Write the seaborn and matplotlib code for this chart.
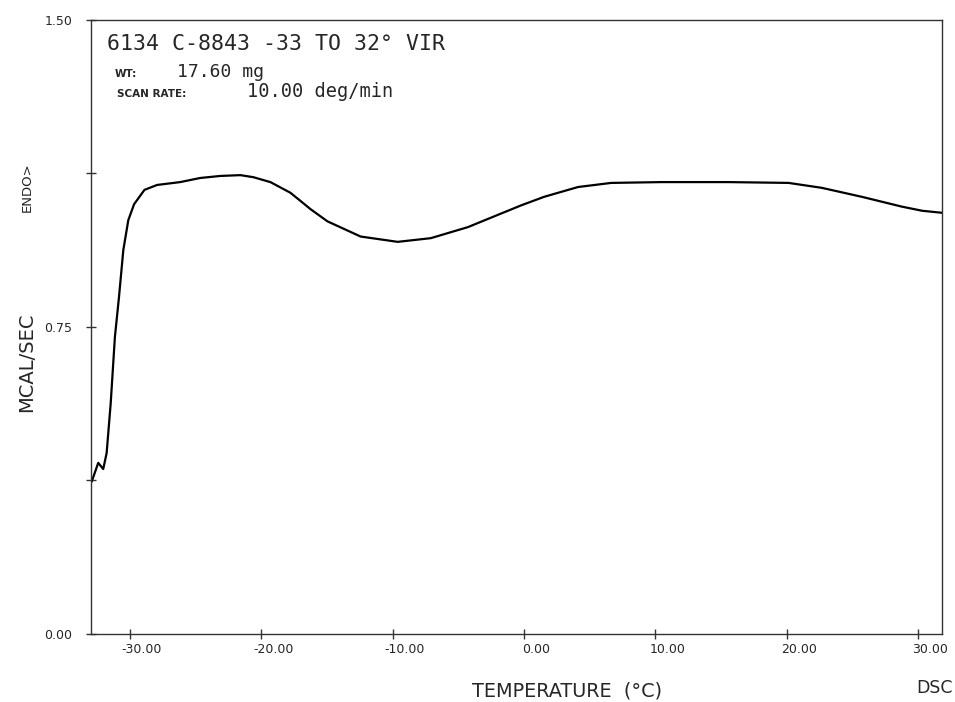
# DSC scan trace, -33 to 32 C

import matplotlib
matplotlib.use('Agg')
import matplotlib.pyplot as plt
import matplotlib.transforms as mtransforms
import seaborn as sns
import pandas as pd

# ==============================================
# Data
temp = [-32.92, -32.42, -32.04, -31.78, -31.47, -31.15, -30.84, -30.51, -30.13,
        -29.69, -28.90, -27.94, -26.18, -24.66, -23.13, -21.60, -20.61, -19.31,
        -17.79, -17.02, -16.26, -14.96, -12.44, -9.62, -7.10, -4.27, -1.76,
        -0.99, -0.23, 1.53, 4.12, 6.64, 10.46, 15.57, 20.15, 22.67, 25.73,
        28.78, 30.31, 31.83]
heat_flow = [0.372, 0.418, 0.403, 0.442, 0.564, 0.726, 0.823, 0.938, 1.011,
             1.050, 1.085, 1.097, 1.104, 1.114, 1.119, 1.121, 1.116, 1.104,
             1.078, 1.058, 1.038, 1.008, 0.971, 0.958, 0.967, 0.994, 1.027,
             1.037, 1.047, 1.068, 1.092, 1.102, 1.104, 1.104, 1.102, 1.090,
             1.068, 1.044, 1.034, 1.029]

x_ticks = [-30, -20, -10, 0, 10, 20, 30]
x_labels = ['-30.00', '-20.00', '-10.00', '0.00', '10.00', '20.00', '30.00']
y_ticks = [0.0, 0.375, 0.75, 1.125, 1.5]
y_labels = ['0.00', '', '0.75', '', '1.50']

title = '6134 C-8843 -33 TO 32\u00b0 VIR'
weight = '17.60 mg'
scan_rate = '10.00 deg/min'

df = pd.DataFrame({'temp': temp, 'heat_flow': heat_flow})

# ==============================================
# Plot it
sns.set_style('ticks')
plt.rcParams['font.family'] = ['DejaVu Sans']

fig = plt.figure(figsize=(9.55, 7.02), dpi=100)
ax = fig.add_axes([0.0953, 0.0969, 0.8911, 0.8746])

sns.lineplot(data=df, x='temp', y='heat_flow', ax=ax, color='black', lw=1.6,
             solid_joinstyle='round', solid_capstyle='round')

ax.set_xlim(-32.97, 31.83)
ax.set_ylim(0, 1.5)
ax.set_xticks(x_ticks)
ax.set_xticklabels(x_labels, fontsize=9)
ax.set_yticks(y_ticks)
ax.set_yticklabels(y_labels, fontsize=9)
ax.tick_params(direction='inout', length=7, width=1, color='#333333', pad=3)
ax.tick_params(axis='y', pad=10)

# shift x tick labels a little to the right, like the plotter did
offset = mtransforms.ScaledTranslation(12 / 100, 0, fig.dpi_scale_trans)
for lab in ax.get_xticklabels():
    lab.set_transform(lab.get_transform() + offset)

for side in ['left', 'right', 'top', 'bottom']:
    ax.spines[side].set_visible(True)
    ax.spines[side].set_color('#333333')
    ax.spines[side].set_linewidth(1.0)

ax.set_xlabel('')
ax.set_ylabel('')

W, H = 955, 702
mono = 'DejaVu Sans Mono'
fig.text(107 / W, 1 - 50 / H, title, family=mono, fontsize=15.5, va='baseline')
fig.text(115 / W, 1 - 77 / H, 'WT:', fontsize=7.5, weight='bold', va='baseline')
fig.text(177 / W, 1 - 77 / H, weight, family=mono, fontsize=13, va='baseline')
fig.text(117 / W, 1 - 97 / H, 'SCAN RATE:', fontsize=7.5, weight='bold', va='baseline')
fig.text(247 / W, 1 - 97 / H, scan_rate, family=mono, fontsize=13.4, va='baseline')

fig.text(27 / W, 1 - 187 / H, 'ENDO>', fontsize=9.5, rotation=90, ha='center', va='center')
fig.text(27 / W, 1 - 362 / H, 'MCAL/SEC', fontsize=14, rotation=90, ha='center', va='center')
fig.text(472 / W, 1 - 691 / H, 'TEMPERATURE  (\u00b0C)', fontsize=13.9, va='center')
fig.text(953 / W, 1 - 688 / H, 'DSC', fontsize=12.5, ha='right', va='center')

plt.savefig('out.png', dpi=100)
